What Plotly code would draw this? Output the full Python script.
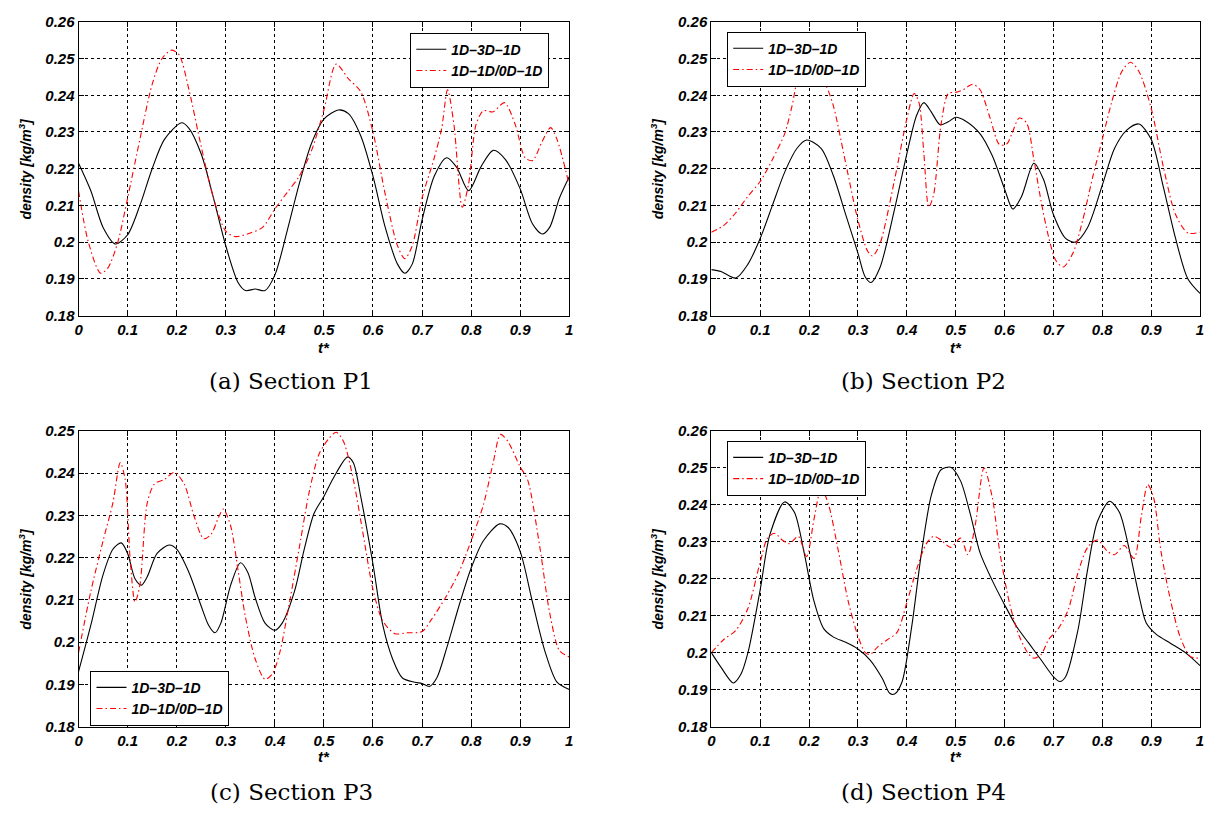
import plotly.graph_objects as go

# ---------------- data ----------------
# Panel (a) Section P1
a_x_3d = [0, 0.025, 0.05, 0.075, 0.1, 0.125, 0.15, 0.175, 0.21, 0.225, 0.25, 0.275, 0.3, 0.325, 0.34, 0.36, 0.38, 0.4,
          0.425, 0.45, 0.475, 0.5, 0.53, 0.55, 0.575, 0.6, 0.625, 0.65, 0.665, 0.68, 0.7, 0.725, 0.75, 0.77, 0.795,
          0.82, 0.845, 0.87, 0.9, 0.925, 0.945, 0.96, 0.98, 1]
a_y_3d = [0.2215, 0.214, 0.204, 0.1995, 0.202, 0.210, 0.220, 0.228, 0.2325, 0.231, 0.224, 0.212, 0.199, 0.189, 0.1868,
          0.1872, 0.1868, 0.191, 0.203, 0.216, 0.227, 0.2335, 0.236, 0.235, 0.229, 0.218, 0.204, 0.194, 0.1915, 0.194,
          0.206, 0.218, 0.223, 0.2205, 0.214, 0.2205, 0.225, 0.2225, 0.2145, 0.205, 0.2022, 0.204, 0.212, 0.2178]
a_x_0d = [0, 0.02, 0.045, 0.06, 0.08, 0.1, 0.125, 0.15, 0.17, 0.19, 0.205, 0.225, 0.25, 0.275, 0.3, 0.32, 0.35, 0.375,
          0.4, 0.425, 0.45, 0.475, 0.5, 0.525, 0.55, 0.575, 0.6, 0.625, 0.65, 0.665, 0.68, 0.7, 0.725, 0.74, 0.752,
          0.765, 0.782, 0.795, 0.81, 0.825, 0.845, 0.868, 0.89, 0.91, 0.925, 0.945, 0.962, 0.975, 1]
a_y_0d = [0.214, 0.200, 0.1915, 0.193, 0.200, 0.212, 0.228, 0.243, 0.250, 0.2523, 0.251, 0.2415, 0.226, 0.212, 0.203,
          0.2015, 0.2025, 0.204, 0.209, 0.2135, 0.218, 0.225, 0.236, 0.2485, 0.2445, 0.241, 0.230, 0.213, 0.199,
          0.1955, 0.199, 0.212, 0.223, 0.231, 0.2415, 0.232, 0.2095, 0.216, 0.232, 0.2358, 0.2355, 0.238, 0.232,
          0.223, 0.2222, 0.2275, 0.2312, 0.228, 0.2155]

# Panel (b) Section P2
b_x_3d = [0, 0.02, 0.05, 0.075, 0.1, 0.125, 0.15, 0.175, 0.195, 0.225, 0.25, 0.275, 0.3, 0.315, 0.327, 0.345, 0.375,
          0.4, 0.42, 0.435, 0.45, 0.468, 0.485, 0.5, 0.52, 0.55, 0.575, 0.6, 0.617, 0.635, 0.66, 0.68, 0.7, 0.725,
          0.745, 0.77, 0.8, 0.825, 0.85, 0.875, 0.9, 0.925, 0.95, 0.975, 1]
b_y_3d = [0.1925, 0.192, 0.1902, 0.194, 0.201, 0.210, 0.219, 0.2255, 0.2278, 0.2255, 0.218, 0.2075, 0.197, 0.1905,
          0.189, 0.193, 0.209, 0.224, 0.2345, 0.238, 0.2355, 0.232, 0.2328, 0.234, 0.233, 0.2295, 0.2235, 0.2145,
          0.209, 0.2125, 0.2215, 0.217, 0.2075, 0.201, 0.200, 0.204, 0.2155, 0.2255, 0.2305, 0.2322, 0.228, 0.215,
          0.201, 0.190, 0.186]
b_x_0d = [0, 0.025, 0.05, 0.075, 0.1, 0.125, 0.15, 0.165, 0.18, 0.195, 0.21, 0.235, 0.25, 0.275, 0.3, 0.32, 0.33,
          0.345, 0.375, 0.4, 0.415, 0.425, 0.435, 0.445, 0.455, 0.47, 0.485, 0.5, 0.515, 0.535, 0.55, 0.57, 0.59,
          0.605, 0.615, 0.63, 0.645, 0.66, 0.675, 0.69, 0.705, 0.72, 0.74, 0.76, 0.78, 0.8, 0.82, 0.84, 0.858, 0.875,
          0.9, 0.925, 0.95, 0.975, 1]
b_y_0d = [0.2027, 0.2045, 0.208, 0.2125, 0.2165, 0.2225, 0.2295, 0.237, 0.2465, 0.250, 0.2468, 0.2425, 0.237,
          0.2215, 0.206, 0.1975, 0.1962, 0.1995, 0.217, 0.2335, 0.2405, 0.238, 0.224, 0.2095, 0.213, 0.232, 0.2405,
          0.2408, 0.2415, 0.243, 0.2415, 0.234, 0.2265, 0.2268, 0.2295, 0.2338, 0.2325, 0.2225, 0.211, 0.2015,
          0.195, 0.1932, 0.197, 0.206, 0.2175, 0.228, 0.2385, 0.2465, 0.249, 0.2465, 0.2365, 0.2205, 0.2075,
          0.2025, 0.2027]

# Panel (c) Section P3
c_x_3d = [0, 0.025, 0.05, 0.07, 0.087, 0.1, 0.115, 0.128, 0.14, 0.16, 0.185, 0.2, 0.225, 0.25, 0.265, 0.278, 0.29,
          0.31, 0.33, 0.345, 0.36, 0.38, 0.4, 0.415, 0.44, 0.46, 0.48, 0.5, 0.52, 0.548, 0.56, 0.575, 0.6, 0.62,
          0.64, 0.66, 0.685, 0.7, 0.715, 0.73, 0.75, 0.775, 0.8, 0.825, 0.858, 0.875, 0.9, 0.925, 0.95, 0.975, 1]
c_y_3d = [0.193, 0.204, 0.216, 0.222, 0.2235, 0.221, 0.215, 0.2135, 0.2155, 0.221, 0.223, 0.222, 0.2165, 0.2085,
          0.204, 0.2022, 0.2045, 0.2135, 0.2188, 0.2165, 0.2105, 0.2045, 0.2028, 0.2045, 0.212, 0.222, 0.2305,
          0.2345, 0.239, 0.2438, 0.2425, 0.2345, 0.2185, 0.204, 0.196, 0.1915, 0.1905, 0.1902, 0.1895, 0.1915,
          0.1985, 0.2085, 0.2175, 0.224, 0.228, 0.2272, 0.2215, 0.2095, 0.198, 0.1905, 0.1888]
c_x_0d = [0, 0.025, 0.05, 0.07, 0.085, 0.095, 0.105, 0.115, 0.125, 0.14, 0.155, 0.175, 0.195, 0.215, 0.235, 0.255,
          0.27, 0.285, 0.295, 0.31, 0.325, 0.34, 0.36, 0.38, 0.395, 0.41, 0.43, 0.45, 0.47, 0.49, 0.51, 0.525,
          0.54, 0.56, 0.58, 0.6, 0.62, 0.645, 0.67, 0.7, 0.72, 0.75, 0.775, 0.8, 0.825, 0.845, 0.86, 0.875, 0.9,
          0.915, 0.94, 0.96, 0.98, 1]
c_y_0d = [0.1975, 0.212, 0.224, 0.233, 0.2425, 0.2385, 0.220, 0.2095, 0.2135, 0.233, 0.2375, 0.2385, 0.2402,
          0.2375, 0.230, 0.2245, 0.2255, 0.2295, 0.2315, 0.2275, 0.217, 0.206, 0.196, 0.1912, 0.1925, 0.1975,
          0.2095, 0.2225, 0.2355, 0.2445, 0.2482, 0.2497, 0.2475, 0.2385, 0.2255, 0.2125, 0.205, 0.202, 0.2022,
          0.2025, 0.2055, 0.211, 0.2165, 0.224, 0.2325, 0.2425, 0.2492, 0.2475, 0.2415, 0.2385, 0.2225, 0.207,
          0.198, 0.1965]

# Panel (d) Section P4
d_x_3d = [0, 0.02, 0.045, 0.06, 0.075, 0.1, 0.12, 0.15, 0.17, 0.19, 0.21, 0.23, 0.25, 0.275, 0.3, 0.325, 0.35,
          0.365, 0.375, 0.39, 0.41, 0.43, 0.45, 0.47, 0.49, 0.51, 0.53, 0.55, 0.575, 0.6, 0.625, 0.65, 0.675, 0.7,
          0.713, 0.725, 0.75, 0.77, 0.79, 0.815, 0.835, 0.855, 0.875, 0.89, 0.91, 0.94, 0.97, 1]
d_y_3d = [0.200, 0.196, 0.1918, 0.194, 0.200, 0.217, 0.232, 0.2408, 0.238, 0.227, 0.214, 0.2065, 0.2042, 0.2028,
          0.201, 0.198, 0.193, 0.189, 0.1888, 0.192, 0.207, 0.227, 0.2425, 0.2495, 0.2502, 0.2465, 0.2375, 0.227,
          0.2195, 0.213, 0.207, 0.2025, 0.198, 0.1935, 0.1922, 0.1935, 0.206, 0.2225, 0.2355, 0.241, 0.238, 0.228,
          0.2155, 0.208, 0.205, 0.2025, 0.200, 0.1965]
d_x_0d = [0, 0.025, 0.05, 0.075, 0.1, 0.115, 0.13, 0.145, 0.16, 0.178, 0.195, 0.21, 0.225, 0.24, 0.26, 0.28, 0.3,
          0.315, 0.325, 0.34, 0.36, 0.38, 0.4, 0.42, 0.44, 0.455, 0.47, 0.49, 0.51, 0.525, 0.54, 0.558, 0.575,
          0.59, 0.61, 0.63, 0.65, 0.66, 0.675, 0.69, 0.71, 0.73, 0.75, 0.77, 0.79, 0.81, 0.825, 0.845, 0.865, 0.88,
          0.893, 0.905, 0.92, 0.94, 0.96, 0.98, 1]
d_y_0d = [0.200, 0.2035, 0.206, 0.212, 0.2245, 0.231, 0.2323, 0.2305, 0.2295, 0.2315, 0.226, 0.236, 0.2445, 0.240,
          0.2275, 0.214, 0.2045, 0.200, 0.1995, 0.2015, 0.2035, 0.2055, 0.2135, 0.2225, 0.2295, 0.2315, 0.2305,
          0.2285, 0.231, 0.2265, 0.2345, 0.250, 0.242, 0.2275, 0.2135, 0.2045, 0.1995, 0.1985, 0.1995, 0.2035,
          0.2065, 0.2115, 0.2215, 0.2285, 0.2305, 0.2275, 0.2265, 0.229, 0.2255, 0.237, 0.2455, 0.242, 0.2275,
          0.214, 0.204, 0.199, 0.1985]

series_names = ["1D–3D–1D", "1D–1D/0D–1D"]
captions = ["(a) Section P1", "(b) Section P2", "(c) Section P3", "(d) Section P4"]
x_ticks = [0, 0.1, 0.2, 0.3, 0.4, 0.5, 0.6, 0.7, 0.8, 0.9, 1]
x_ticktext = ["0", "0.1", "0.2", "0.3", "0.4", "0.5", "0.6", "0.7", "0.8", "0.9", "1"]
y_ticks_26 = [0.18, 0.19, 0.20, 0.21, 0.22, 0.23, 0.24, 0.25, 0.26]
y_ticktext_26 = ["0.18", "0.19", "0.2", "0.21", "0.22", "0.23", "0.24", "0.25", "0.26"]
y_ticks_25 = y_ticks_26[:-1]
y_ticktext_25 = y_ticktext_26[:-1]

# ---------------- layout geometry (window pixels) ----------------
OFF = 8                      # default page body margin
W, H = 1215 - 2 * OFF, 814 - 2 * OFF


def X(px):
    return (px - OFF) / W


def Y(py):
    return 1 - (py - OFF) / H


panels = [
    dict(d=(a_x_3d, a_y_3d, a_x_0d, a_y_0d), px=(75, 569), py=(13, 313), yr=(0.18, 0.26),
         yt=(y_ticks_26, y_ticktext_26), leg=(409, 24), cap=(289, 380), xt=346, ytx=21),
    dict(d=(b_x_3d, b_y_3d, b_x_0d, b_y_0d), px=(712, 1204), py=(13, 313), yr=(0.18, 0.26),
         yt=(y_ticks_26, y_ticktext_26), leg=(728, 23), cap=(926, 380), xt=346, ytx=657),
    dict(d=(c_x_3d, c_y_3d, c_x_0d, c_y_0d), px=(75, 569), py=(431, 733), yr=(0.18, 0.25),
         yt=(y_ticks_25, y_ticktext_25), leg=(87, 676), cap=(289, 800), xt=764, ytx=21),
    dict(d=(d_x_3d, d_y_3d, d_x_0d, d_y_0d), px=(712, 1204), py=(431, 733), yr=(0.18, 0.26),
         yt=(y_ticks_26, y_ticktext_26), leg=(728, 441), cap=(926, 800), xt=764, ytx=657),
]

BI = dict(family="Liberation Sans, Arial, sans-serif", weight="bold", style="italic", color="black")

fig = go.Figure()
layout = dict(width=W, height=H, margin=dict(l=0, r=0, t=0, b=0),
              paper_bgcolor="white", plot_bgcolor="white", showlegend=True)
annotations = []

for i, p in enumerate(panels):
    n = "" if i == 0 else str(i + 1)
    xs3, ys3, xs0, ys0 = p["d"]
    legname = "legend" + n
    fig.add_trace(go.Scatter(x=xs3, y=ys3, mode="lines", name=series_names[0],
                             line=dict(color="black", width=1.1, shape="spline", smoothing=0.8),
                             xaxis="x" + n, yaxis="y" + n, legend=legname))
    fig.add_trace(go.Scatter(x=xs0, y=ys0, mode="lines", name=series_names[1],
                             line=dict(color="#ff0000", width=1.1, dash="6px,3px,1.5px,3px",
                                       shape="spline", smoothing=0.8),
                             xaxis="x" + n, yaxis="y" + n, legend=legname))
    x0, x1 = p["px"]
    y0, y1 = p["py"]
    axcommon = dict(showline=True, linecolor="black", linewidth=1, mirror="ticks",
                    ticks="inside", ticklen=5, tickcolor="black",
                    showgrid=True, gridcolor="black", griddash="dot", gridwidth=1,
                    zeroline=False, tickfont=dict(size=15, **BI), ticklabeloverflow="allow")
    layout["xaxis" + n] = dict(domain=[X(x0), X(x1)], range=[0, 1], anchor="y" + n,
                               tickvals=x_ticks, ticktext=x_ticktext, **axcommon)
    layout["yaxis" + n] = dict(domain=[Y(y1), Y(y0)], range=list(p["yr"]), anchor="x" + n,
                               tickvals=p["yt"][0], ticktext=p["yt"][1], **axcommon)
    lx, ly = p["leg"]
    layout[legname] = dict(x=X(lx), y=Y(ly), xanchor="left", yanchor="top",
                           bgcolor="white", bordercolor="black", borderwidth=1,
                           font=dict(size=14, **BI), tracegroupgap=0)
    annotations.append(dict(text=captions[i], x=X(p["cap"][0]), y=Y(p["cap"][1]),
                            xref="paper", yref="paper", showarrow=False,
                            xanchor="center", yanchor="middle",
                            font=dict(family="DejaVu Serif, Liberation Serif, serif", size=23, color="black")))
    annotations.append(dict(text="t*", x=X((x0 + x1) / 2), y=Y(p["xt"]),
                            xref="paper", yref="paper", showarrow=False,
                            xanchor="center", yanchor="middle", font=dict(size=15, **BI)))
    annotations.append(dict(text="density [kg/m<sup>3</sup>]", x=X(p["ytx"]), y=Y((y0 + y1) / 2),
                            xref="paper", yref="paper", showarrow=False, textangle=-90,
                            xanchor="center", yanchor="middle",
                            font=dict(size=14, **BI)))

layout["annotations"] = annotations
fig.update_layout(**layout)
fig.write_html("out.html")
